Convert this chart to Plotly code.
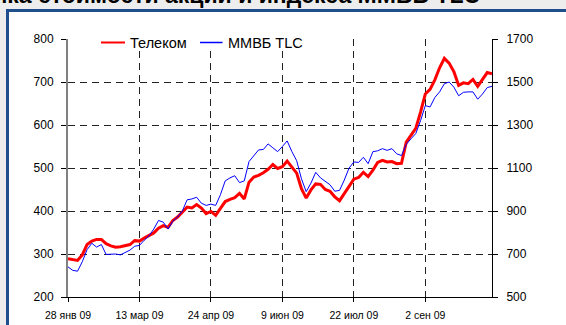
import plotly.graph_objects as go

# trading-session index (every 2nd session) and values
day = list(range(0, 179, 2))
telecom = [289, 287, 285, 298, 322, 330, 334, 334, 324, 319,
           316, 317, 319, 322, 331, 330, 337, 343, 349, 360,
           366, 362, 378, 386, 397, 409, 407, 415, 407, 394,
           399, 390, 406, 422, 427, 431, 441, 428, 467, 479,
           483, 489, 497, 508, 499, 503, 516, 501, 488, 452,
           430, 449, 463, 462, 450, 446, 433, 424, 441, 458,
           474, 478, 490, 480, 495, 513, 518, 514, 515, 510,
           511, 560, 575, 592, 630, 672, 683, 705, 733, 755,
           744, 724, 692, 698, 696, 706, 690, 705, 722, 719]
micex_tlc = [640, 624, 620, 664, 720, 750, 732, 744, 698, 700,
             700, 696, 706, 718, 736, 740, 764, 784, 816, 856,
             848, 816, 852, 872, 900, 952, 956, 964, 936, 926,
             932, 926, 976, 1040, 1054, 1064, 1032, 1040, 1130, 1156,
             1184, 1186, 1212, 1194, 1176, 1200, 1226, 1176, 1134, 1050,
             990, 1030, 1080, 1054, 1038, 1022, 992, 996, 1044, 1100,
             1128, 1126, 1150, 1120, 1176, 1180, 1190, 1182, 1190, 1166,
             1158, 1210, 1236, 1260, 1320, 1390, 1384, 1428, 1454, 1492,
             1500, 1476, 1436, 1452, 1454, 1454, 1420, 1444, 1474, 1480]
tick_days = [0, 30, 60, 90, 120, 150]
tick_labels = ["28 янв 09", "13 мар 09", "24 апр 09", "9 июн 09", "22 июл 09", "2 сен 09"]
series_names = ["Телеком", "ММВБ TLC"]
title_text = "Динамика стоимости акций и индекса ММВБ TLC"

FONT = "Arial, Liberation Sans, sans-serif"
RED = "#ff0000"
BLUE = "#0000ff"
GRID = "#222222"

fig = go.Figure()
fig.add_trace(go.Scatter(x=day, y=telecom, name=series_names[0], mode="lines",
                         line=dict(color=RED, width=3), yaxis="y", showlegend=False))
fig.add_trace(go.Scatter(x=day, y=micex_tlc, name=series_names[1], mode="lines",
                         line=dict(color=BLUE, width=1), yaxis="y2", showlegend=False))

W, H = 566, 325
L, R, T, B = 68, 74, 39, 28


def px(xp):
    return (xp - L) / (W - L - R)


def py(yp):
    return (H - B - yp) / (H - T - B)


shapes = [
    # blue frame with white inside
    dict(type="rect", xref="paper", yref="paper", x0=px(7.5), x1=1.6, y0=-0.6, y1=py(10.5),
         fillcolor="white", line=dict(color="#1f4e8c", width=3), layer="below"),
    # legend background
    dict(type="rect", xref="paper", yref="paper", x0=px(95), x1=px(312), y0=py(48), y1=py(36),
         fillcolor="white", line=dict(width=0), layer="above"),
    dict(type="line", xref="paper", yref="paper", x0=px(101), x1=px(125), y0=py(42.5), y1=py(42.5),
         line=dict(color=RED, width=2), layer="above"),
    dict(type="line", xref="paper", yref="paper", x0=px(200), x1=px(222.5), y0=py(42.5), y1=py(42.5),
         line=dict(color=BLUE, width=1.5), layer="above"),
]

annotations = [
    dict(text=series_names[0], xref="paper", yref="paper", x=px(128), y=py(42.5),
         xanchor="left", yanchor="middle", showarrow=False,
         font=dict(family=FONT, size=14.5, color="black")),
    dict(text=series_names[1], xref="paper", yref="paper", x=px(226), y=py(42.5),
         xanchor="left", yanchor="middle", showarrow=False,
         font=dict(family=FONT, size=14.5, color="black")),
    dict(text="<b>" + title_text + "</b>", xref="paper", yref="paper", x=px(482), y=py(10),
         xanchor="right", yanchor="bottom", showarrow=False,
         font=dict(family=FONT, size=23, color="black")),
]

fig.update_layout(
    width=W, height=H,
    margin=dict(l=L, r=R, t=T, b=B, pad=0, autoexpand=False),
    paper_bgcolor="#ededed",
    plot_bgcolor="rgba(0,0,0,0)",
    font=dict(family=FONT, size=12, color="black"),
    showlegend=False,
    shapes=shapes,
    annotations=annotations,
    xaxis=dict(range=[0, 178], tickmode="array", tickvals=tick_days, ticktext=tick_labels,
               showgrid=True, gridcolor=GRID, gridwidth=1, griddash="7px,5px",
               showline=True, linecolor="black", linewidth=1,
               ticks="outside", ticklen=4, tickcolor="black",
               tickfont=dict(family=FONT, size=10.5), zeroline=False,
               ticklabelstandoff=4, automargin=False),
    yaxis=dict(range=[200, 800], dtick=100, tick0=200,
               showgrid=True, gridcolor=GRID, gridwidth=1, griddash="7px,5px",
               showline=True, linecolor="#808080", linewidth=2,
               ticks="outside", ticklen=5, tickcolor="black",
               tickfont=dict(family=FONT, size=12), zeroline=False,
               ticklabelstandoff=5, automargin=False),
    yaxis2=dict(range=[500, 1700], dtick=200, tick0=500, overlaying="y", side="right",
                showgrid=False, showline=True, linecolor="black", linewidth=1,
                ticks="outside", ticklen=5, tickcolor="black",
                tickfont=dict(family=FONT, size=12), zeroline=False,
                ticklabelstandoff=6, automargin=False),
)

fig.write_html("out.html")
